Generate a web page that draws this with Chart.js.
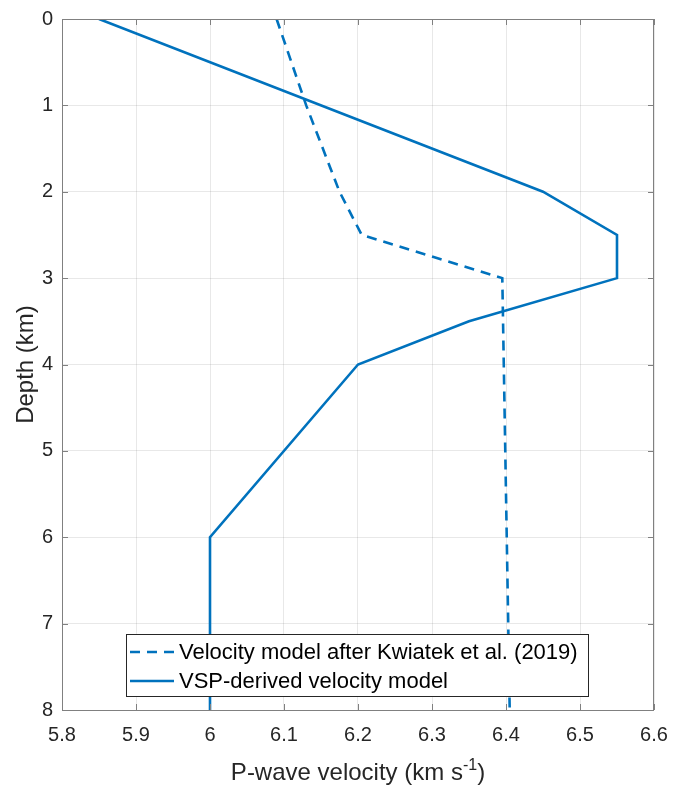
<!DOCTYPE html>
<html>
<head>
<meta charset="utf-8">
<script src="https://cdn.jsdelivr.net/npm/chart.js@4/dist/chart.umd.min.js"></script>
<style>
  html, body { margin: 0; padding: 0; background: #fff; }
  #wrap { position: relative; width: 675px; height: 787px; }
</style>
</head>
<body>
<div id="wrap"><canvas id="chart" width="675" height="787"></canvas></div>
<script>
// Depth profiles (velocity km/s, depth km)
const kwiatekVel = [6.09, 6.13, 6.175, 6.205, 6.395, 6.405];
const kwiatekDepth = [0, 1, 2, 2.5, 3, 8];
const vspVel = [5.85, 6.45, 6.55, 6.55, 6.35, 6.2, 6.0, 6.0];
const vspDepth = [0, 2, 2.5, 3, 3.5, 4, 6, 8];

const legendLabels = ['Velocity model after Kwiatek et al. (2019)', 'VSP-derived velocity model'];
const xTitle = 'P-wave velocity (km s';
const xTitleSup = '-1';
const yTitle = 'Depth (km)';

const BLUE = '#0072BD';
const AXIS = '#808080';
const TEXT = '#262626';
const FONT = '"Liberation Sans", Arial, sans-serif';

const toPoints = (xs, ys) => xs.map((x, i) => ({ x, y: ys[i] }));

// MATLAB-style box, inward ticks, titles and legend
const matlabAxes = {
  id: 'matlabAxes',
  afterDraw(chart) {
    const { ctx, chartArea: a, scales } = chart;
    ctx.save();

    // box
    ctx.strokeStyle = AXIS;
    ctx.lineWidth = 1;
    ctx.strokeRect(a.left + 0.5, a.top + 0.5, a.right - a.left - 1, a.bottom - a.top);

    // inward ticks on all sides
    const tl = 6;
    ctx.beginPath();
    scales.x.ticks.forEach(t => {
      const px = Math.round(scales.x.getPixelForValue(t.value)) + 0.5;
      ctx.moveTo(px, a.bottom); ctx.lineTo(px, a.bottom - tl);
      ctx.moveTo(px, a.top); ctx.lineTo(px, a.top + tl);
    });
    scales.y.ticks.forEach(t => {
      const py = Math.round(scales.y.getPixelForValue(t.value)) + 0.5;
      ctx.moveTo(a.left, py); ctx.lineTo(a.left + tl, py);
      ctx.moveTo(a.right, py); ctx.lineTo(a.right - tl, py);
    });
    ctx.stroke();

    // x title with superscript
    ctx.fillStyle = TEXT;
    ctx.textBaseline = 'alphabetic';
    ctx.font = '24px ' + FONT;
    const mainW = ctx.measureText(xTitle).width;
    ctx.font = '16px ' + FONT;
    const supW = ctx.measureText(xTitleSup).width;
    ctx.font = '24px ' + FONT;
    const closeW = ctx.measureText(')').width;
    const cx = (a.left + a.right) / 2;
    let x0 = cx - (mainW + supW + closeW) / 2;
    const base = 780;
    ctx.textAlign = 'left';
    ctx.fillText(xTitle, x0, base);
    ctx.font = '16px ' + FONT;
    ctx.fillText(xTitleSup, x0 + mainW, base - 10);
    ctx.font = '24px ' + FONT;
    ctx.fillText(')', x0 + mainW + supW, base);

    // y title
    ctx.save();
    ctx.translate(33, (a.top + a.bottom) / 2);
    ctx.rotate(-Math.PI / 2);
    ctx.textAlign = 'center';
    ctx.fillText(yTitle, 0, 0);
    ctx.restore();

    // legend box
    const lx = 126, ly = 634, lw = 462, lh = 62;
    ctx.fillStyle = '#fff';
    ctx.fillRect(lx, ly, lw, lh);
    ctx.strokeStyle = '#262626';
    ctx.lineWidth = 1;
    ctx.strokeRect(lx + 0.5, ly + 0.5, lw, lh);

    const rows = [652, 681];
    ctx.strokeStyle = BLUE;
    ctx.lineWidth = 2.5;
    rows.forEach((ry, i) => {
      ctx.setLineDash(i === 0 ? [10, 7] : []);
      ctx.beginPath();
      ctx.moveTo(130, ry); ctx.lineTo(174, ry);
      ctx.stroke();
    });
    ctx.setLineDash([]);
    ctx.fillStyle = '#000';
    ctx.font = '22px ' + FONT;
    ctx.textAlign = 'left';
    ctx.textBaseline = 'middle';
    rows.forEach((ry, i) => ctx.fillText(legendLabels[i], 179, ry + 1));

    ctx.restore();
  }
};

new Chart(document.getElementById('chart'), {
  type: 'scatter',
  data: {
    datasets: [
      {
        label: legendLabels[0],
        data: toPoints(kwiatekVel, kwiatekDepth),
        showLine: true,
        borderColor: BLUE,
        borderWidth: 2.6,
        borderDash: [10, 7],
        pointRadius: 0,
        tension: 0,
      },
      {
        label: legendLabels[1],
        data: toPoints(vspVel, vspDepth),
        showLine: true,
        borderColor: BLUE,
        borderWidth: 2.6,
        pointRadius: 0,
        tension: 0,
      }
    ]
  },
  options: {
    responsive: false,
    animation: false,
    layout: { padding: { left: 0, top: 19, right: 21, bottom: 0 } },
    plugins: {
      legend: { display: false },
      tooltip: { enabled: false },
    },
    scales: {
      x: {
        type: 'linear',
        min: 5.8,
        max: 6.6,
        border: { display: false },
        grid: { color: 'rgba(0,0,0,0.09)', drawTicks: false },
        ticks: {
          stepSize: 0.1,
          padding: 13,
          color: TEXT,
          font: { family: FONT, size: 20 },
          callback: v => String(+v.toFixed(1)),
        },
        afterFit: s => { s.height = 77; s.paddingLeft = 0; s.paddingRight = 0; },
      },
      y: {
        type: 'linear',
        min: 0,
        max: 8,
        reverse: true,
        border: { display: false },
        grid: { color: 'rgba(0,0,0,0.09)', drawTicks: false },
        ticks: {
          stepSize: 1,
          padding: 9,
          color: TEXT,
          font: { family: FONT, size: 20 },
        },
        afterFit: s => { s.width = 62; s.paddingTop = 0; s.paddingBottom = 0; },
      }
    }
  },
  plugins: [matlabAxes]
});
</script>
</body>
</html>
